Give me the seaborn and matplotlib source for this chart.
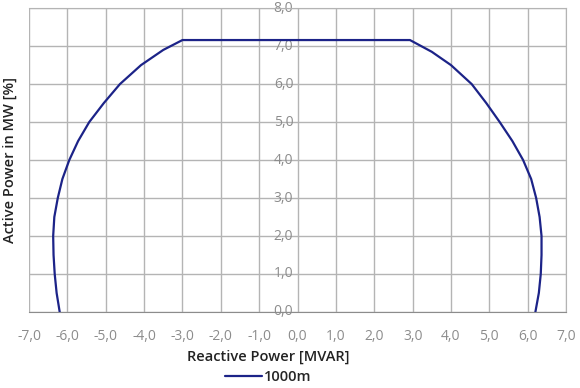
import numpy as np
import pandas as pd
import seaborn as sns
import matplotlib.pyplot as plt
from matplotlib.ticker import FuncFormatter, MultipleLocator

# capability curve, traced bottom-left -> top -> bottom-right
reactive = [-6.20, -6.28, -6.33, -6.36, -6.37, -6.34, -6.25, -6.13, -5.95, -5.72,
            -5.43, -5.05, -4.63, -4.08, -3.50, -3.00,
            2.93, 3.50, 4.00, 4.54, 4.92, 5.27, 5.60, 5.88, 6.09, 6.22, 6.31, 6.36,
            6.36, 6.34, 6.29, 6.20]
active = [0.0, 0.5, 1.0, 1.5, 2.0, 2.5, 3.0, 3.5, 4.0, 4.5,
          5.0, 5.5, 6.0, 6.5, 6.9, 7.16,
          7.16, 6.85, 6.5, 6.0, 5.5, 5.0, 4.5, 4.0, 3.5, 3.0, 2.5, 2.0,
          1.5, 1.0, 0.5, 0.0]
series_name = '1000m'

df = pd.DataFrame({'q': reactive, 'p': active, 'altitude': series_name})

sns.set_style('white')
plt.rcParams['font.family'] = ['Open Sans', 'DejaVu Sans']

fig, ax = plt.subplots(figsize=(5.8, 3.88), dpi=100)
fig.subplots_adjust(left=0.05, right=0.976, top=0.979, bottom=0.196)

sns.lineplot(data=df, x='q', y='p', hue='altitude', sort=False, estimator=None,
             palette=['#1c2388'], linewidth=1.6, ax=ax, legend=False, zorder=3)

ax.set_xlim(-7, 7)
ax.set_ylim(0, 8)
ax.xaxis.set_major_locator(MultipleLocator(1))
ax.yaxis.set_major_locator(MultipleLocator(1))
comma = FuncFormatter(lambda v, pos: f'{v:.1f}'.replace('.', ','))
ax.xaxis.set_major_formatter(comma)
ax.yaxis.set_major_formatter(comma)

ax.grid(True, color='#b4b4b4', linewidth=1)
ax.set_axisbelow(True)

# y axis sits on x = 0, labels just left of it
ax.spines['left'].set_position(('data', 0))
ax.spines['left'].set_visible(False)
for s in ['top', 'right', 'bottom']:
    ax.spines[s].set_color('#b4b4b4')
ax.spines['bottom'].set_color('#8c8c8c')

ax.tick_params(axis='both', length=0, labelsize=10, labelcolor='#8c8c8c')
ax.tick_params(axis='x', pad=12)
ax.tick_params(axis='y', pad=3)
for lab in ax.get_yticklabels():
    lab.set_verticalalignment('center')

ax.set_xlabel('Reactive Power [MVAR]', fontsize=10.5, fontweight='semibold', color='#222222')
ax.xaxis.set_label_coords(0.445, -0.125)
ax.set_ylabel('Active Power in MW [%]', fontsize=10.5, fontweight='semibold', color='#222222')
ax.yaxis.set_label_coords(-0.022, 0.5)

handle = plt.Line2D([], [], color='#1c2388', linewidth=1.6)
fig.legend([handle], [series_name], loc='center', bbox_to_anchor=(0.462, 0.028),
           frameon=False, handlelength=2.6, handletextpad=0.1,
           prop={'weight': 'semibold', 'size': 10.5})

fig.savefig('out.png', dpi=100)
